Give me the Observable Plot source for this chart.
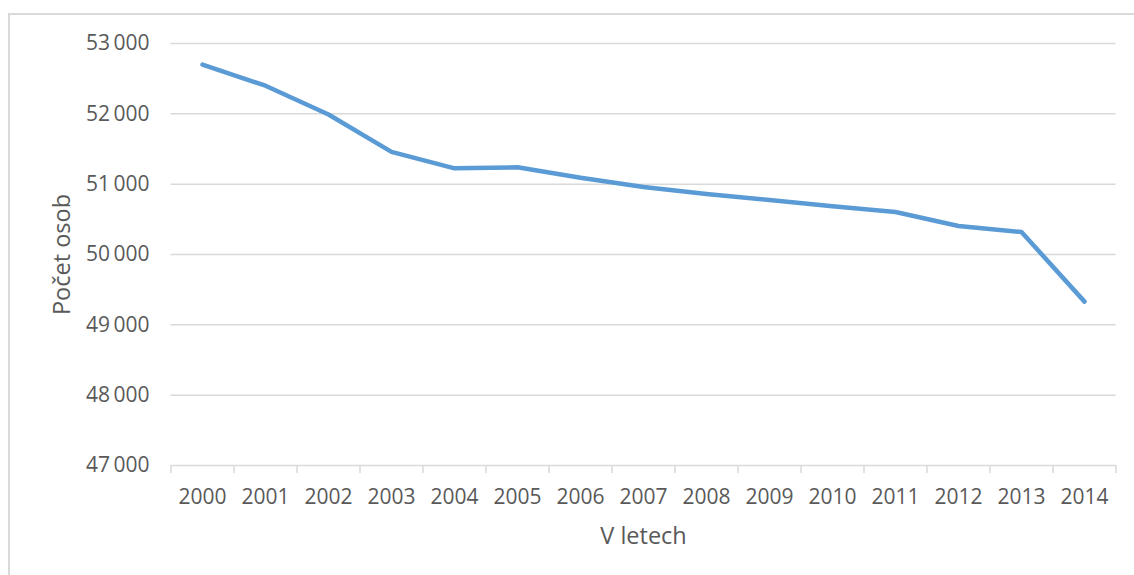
<!DOCTYPE html>
<html>
<head>
<meta charset="utf-8">
<script src="https://cdn.jsdelivr.net/npm/d3@7"></script>
<script src="https://cdn.jsdelivr.net/npm/@observablehq/plot@0.6"></script>
<style>
  html, body { margin: 0; padding: 0; background: #fff; overflow: hidden; }
  #wrap { position: relative; width: 1134px; height: 575px; }
  #frame { position: absolute; left: 8px; top: 13px; width: 1140px; height: 600px;
           border-left: 2px solid #d9d9d9; border-top: 2px solid #d9d9d9; pointer-events: none; }
  #chart { position: absolute; left: 0; top: 0; }
  svg { font-family: "Open Sans", sans-serif; }
</style>
</head>
<body>
<div id="wrap"><div id="chart"></div><div id="frame"></div></div>
<script>
const years = [2000, 2001, 2002, 2003, 2004, 2005, 2006, 2007, 2008, 2009, 2010, 2011, 2012, 2013, 2014];
const persons = [52700, 52400, 51990, 51460, 51225, 51240, 51090, 50960, 50860, 50775, 50685, 50605, 50405, 50320, 49330];
const yTicks = [47000, 48000, 49000, 50000, 51000, 52000, 53000];
const yLabel = "Počet osob";
const xLabel = "V letech";

const data = years.map((y, i) => ({year: y, value: persons[i]}));
const boundaries = [...years.map(y => y - 0.5), years[years.length - 1] + 0.5];
const fmt = v => d3.format(",")(v).replace(/,/g, "\u2009");

const grey = "#595959";
const grid = "#d9d9d9";

const chart = Plot.plot({
  width: 1134,
  height: 575,
  marginLeft: 170.5,
  marginRight: 18.5,
  marginTop: 43,
  marginBottom: 110,
  style: {fontFamily: "'Open Sans', sans-serif", color: grey, background: "transparent"},
  x: {type: "linear", domain: [years[0] - 0.5, years[years.length - 1] + 0.5]},
  y: {domain: [yTicks[0], yTicks[yTicks.length - 1]]},
  marks: [
    Plot.ruleY(yTicks.slice(1), {stroke: grid, strokeWidth: 1.5}),
    Plot.ruleY([yTicks[0]], {stroke: grid, strokeWidth: 1.5}),
    Plot.axisX({ticks: boundaries, tickSize: 8, tickFormat: () => "", stroke: grid, strokeWidth: 1.5, label: null}),
    Plot.axisX({ticks: years, tickSize: 0, tickPadding: 23.5, tickFormat: d => String(d), fontSize: 21, fill: grey, label: null}),
    Plot.axisY({ticks: yTicks, tickSize: 0, tickPadding: 21.5, tickFormat: fmt, fontSize: 21, fill: grey, label: null}),
    Plot.line(data, {x: "year", y: "value", stroke: "#5b9bd5", strokeWidth: 4.5, strokeLinecap: "round", strokeLinejoin: "round"}),
    Plot.text([yLabel], {frameAnchor: "left", textAnchor: "middle", dx: -108.5, rotate: -90, fontSize: 23.5, fill: grey}),
    Plot.text([xLabel], {frameAnchor: "bottom", dy: 78, fontSize: 23.5, fill: grey})
  ]
});
document.getElementById("chart").appendChild(chart);
</script>
</body>
</html>
